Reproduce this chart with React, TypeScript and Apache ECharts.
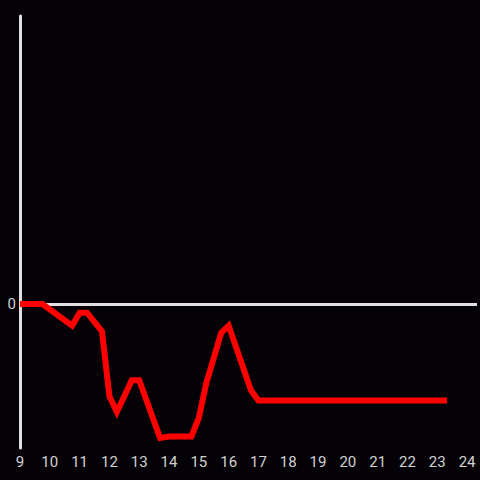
import React, { useEffect, useRef } from "react";
import * as echarts from "echarts";

const hours = [9, 9.75, 10.75, 11, 11.25, 11.75, 12, 12.25, 12.75, 13, 13.7, 14, 14.75, 15, 15.25, 15.75, 16, 16.75, 17, 23.33];
const values = [0, 0, -0.15, -0.06, -0.06, -0.19, -0.64, -0.75, -0.53, -0.53, -0.93, -0.92, -0.92, -0.79, -0.55, -0.2, -0.15, -0.6, -0.67, -0.67];
const zeroLevel = 0;

export default function App() {
  const ref = useRef<HTMLDivElement>(null);
  useEffect(() => {
    if (!ref.current) return;
    document.body.style.margin = "0";
    document.body.style.background = "#040206";
    const chart = echarts.init(ref.current, null, { renderer: "svg" });
    chart.setOption({
      animation: false,
      backgroundColor: "#040206",
      grid: { left: 20, right: 0, top: 16, bottom: 32 },
      xAxis: {
        type: "value",
        min: 9,
        max: 24.333,
        interval: 1,
        axisLine: { show: false },
        axisTick: { show: false },
        splitLine: { show: false },
        axisLabel: {
          color: "#d2d2d2",
          fontSize: 15,
          fontFamily: "Roboto, sans-serif",
          margin: 6,
          formatter: (v: number) => (Math.abs(v - Math.round(v)) < 1e-6 ? String(Math.round(v)) : ""),
        },
      },
      yAxis: {
        type: "value",
        min: -1,
        max: 2,
        interval: 1,
        axisLine: { show: true, onZero: false, lineStyle: { color: "#e0e0e0", width: 3 } },
        axisTick: { show: false },
        splitLine: { show: false },
        axisLabel: {
          color: "#d2d2d2",
          fontSize: 15,
          fontFamily: "Roboto, sans-serif",
          margin: 4,
          formatter: (v: number) => (v === 0 ? "0" : ""),
        },
      },
      series: [
        {
          type: "line",
          data: hours.map((h, i) => [h, values[i]]),
          showSymbol: false,
          symbol: "none",
          lineStyle: { color: "#ff0000", width: 6, join: "miter" },
          z: 3,
          markLine: {
            silent: true,
            symbol: "none",
            label: { show: false },
            lineStyle: { color: "#e0e0e0", width: 3, type: "solid" },
            data: [{ yAxis: zeroLevel }],
            z: 2,
          },
        },
      ],
    });
    return () => chart.dispose();
  }, []);
  return <div ref={ref} style={{ position: "fixed", left: 0, top: 0, width: 480, height: 480 }} />;
}
